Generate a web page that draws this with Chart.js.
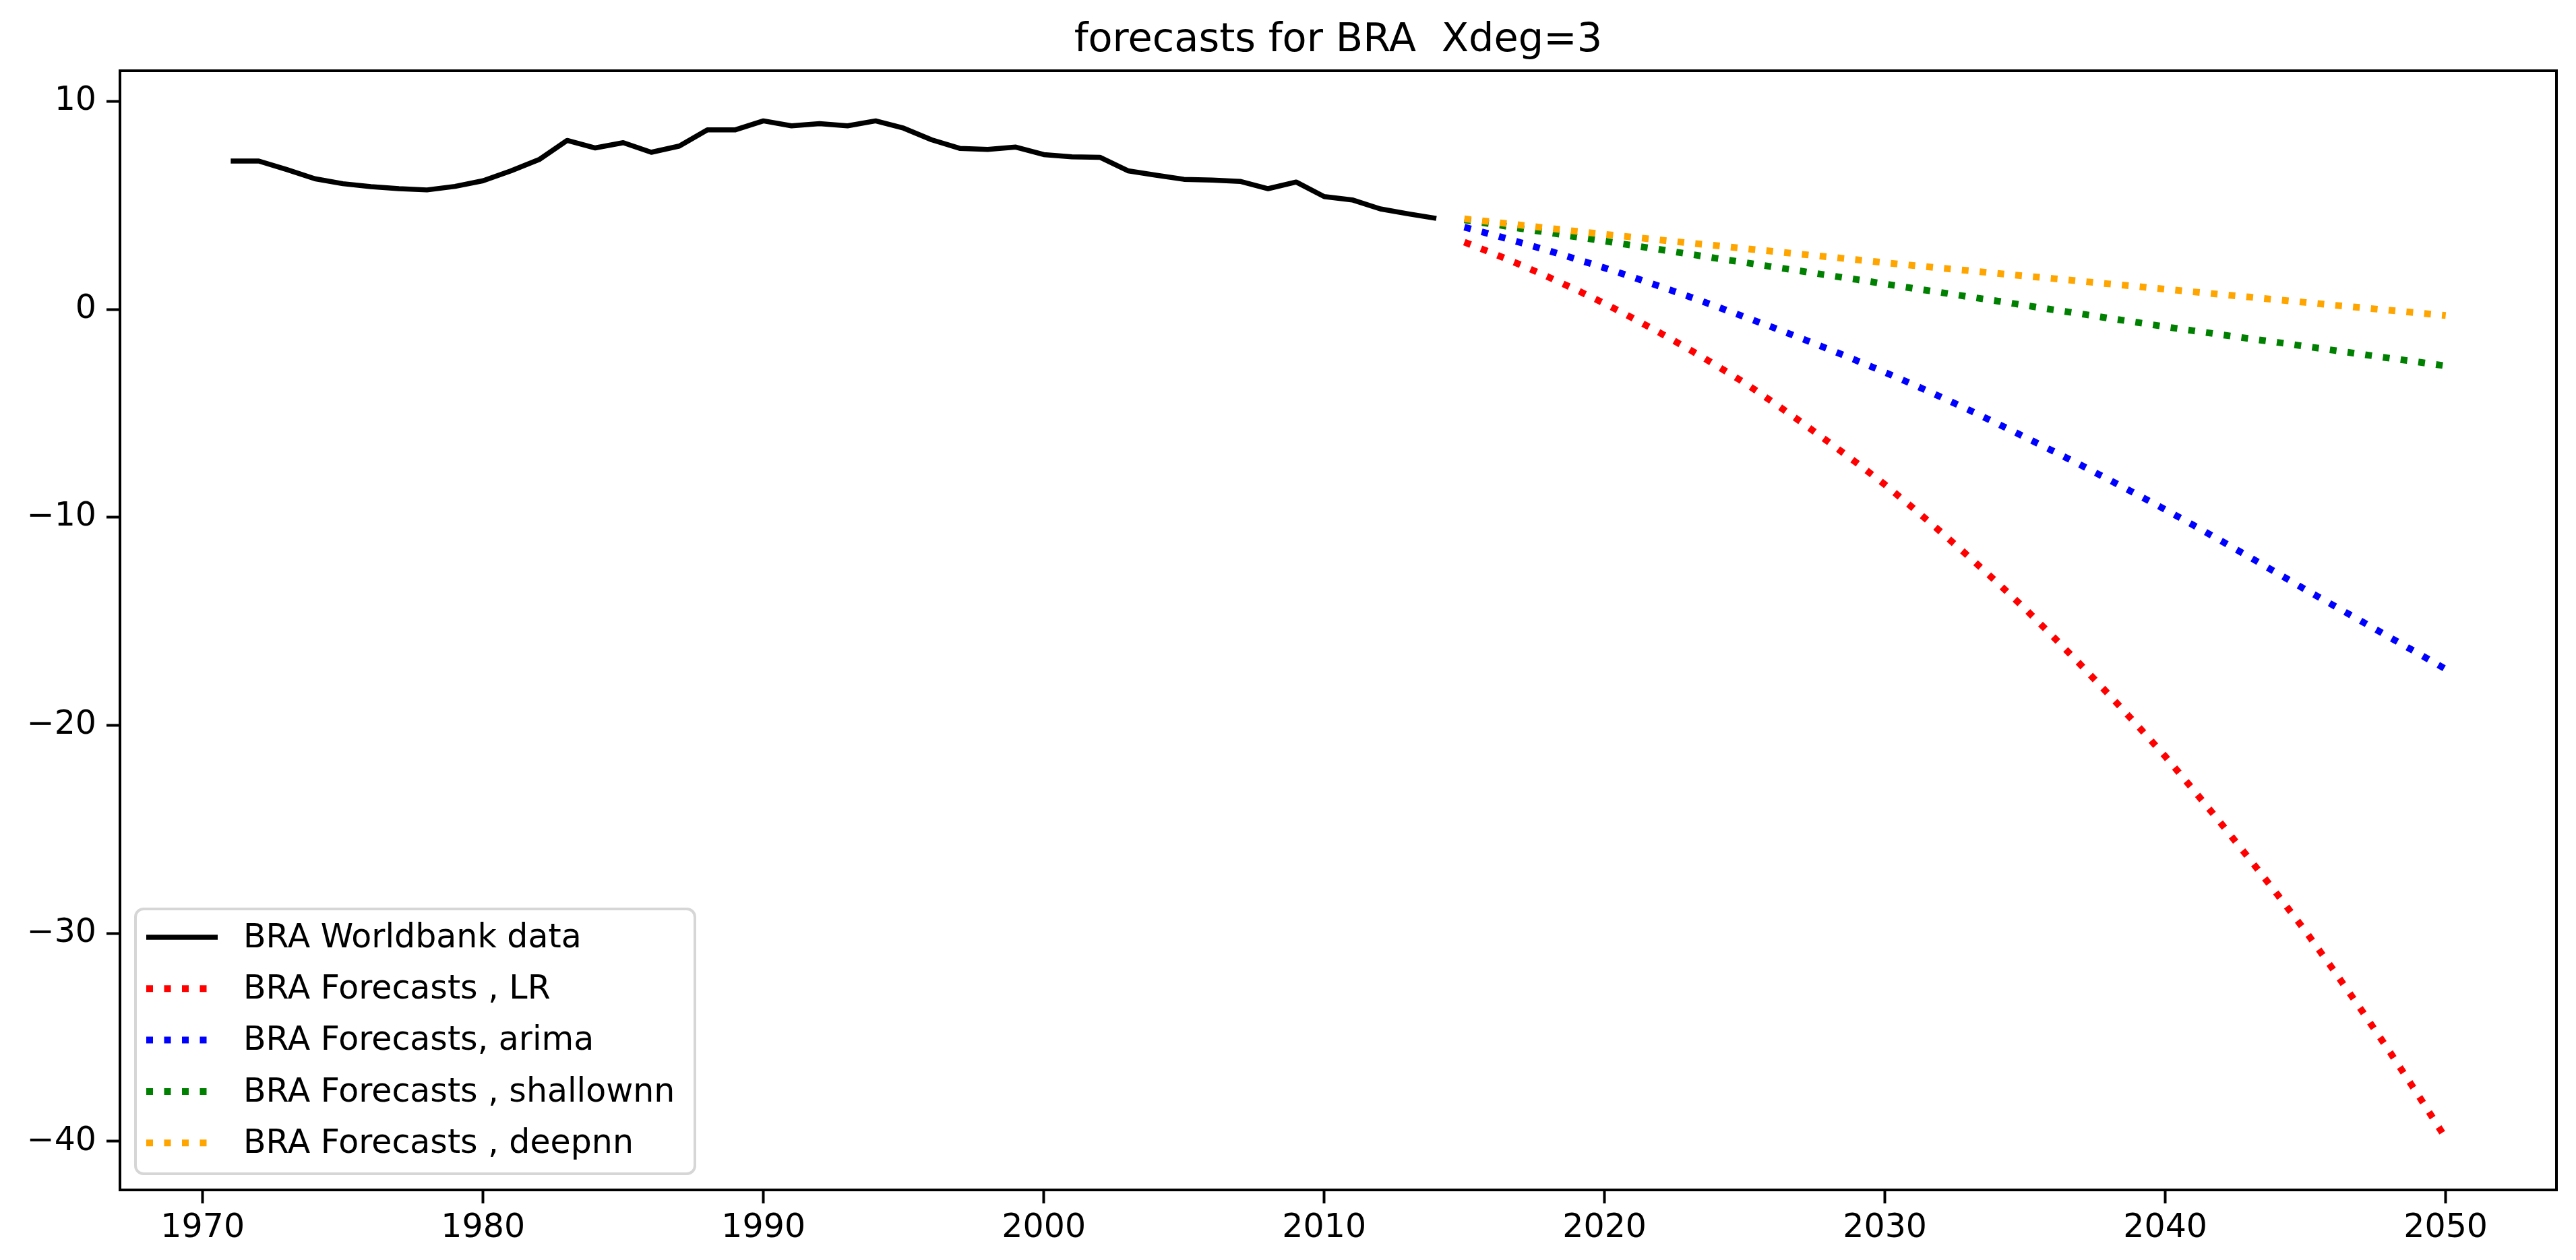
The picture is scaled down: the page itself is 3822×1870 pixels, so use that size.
<!DOCTYPE html>
<html>
<head>
<meta charset="utf-8">
<script src="https://cdn.jsdelivr.net/npm/chart.js@4.4.1/dist/chart.umd.min.js"></script>
<style>
html,body{margin:0;padding:0;background:#fff;}
#wrap{width:3822px;height:1870px;}
</style>
</head>
<body>
<div id="wrap"><canvas id="c" width="3822" height="1870"></canvas></div>
<script>
const titleText = 'forecasts for BRA  Xdeg=3';
const seriesLabels = ['BRA Worldbank data','BRA Forecasts , LR','BRA Forecasts, arima','BRA Forecasts , shallownn','BRA Forecasts , deepnn'];
const seriesColors = ['#000000','#ff0000','#0000ff','#008000','#ffa500'];

const histYears = [1971,1972,1973,1974,1975,1976,1977,1978,1979,1980,1981,1982,1983,1984,1985,1986,1987,1988,1989,1990,1991,1992,1993,1994,1995,1996,1997,1998,1999,2000,2001,2002,2003,2004,2005,2006,2007,2008,2009,2010,2011,2012,2013,2014];
const worldbank = [7.13,7.13,6.72,6.28,6.04,5.90,5.80,5.74,5.91,6.18,6.66,7.20,8.12,7.76,8.01,7.55,7.85,8.63,8.63,9.06,8.82,8.93,8.82,9.06,8.71,8.15,7.74,7.69,7.80,7.44,7.33,7.31,6.66,6.45,6.25,6.21,6.15,5.80,6.12,5.42,5.26,4.83,4.59,4.37];

const fcYears = [2015,2016,2017,2018,2019,2020,2021,2022,2023,2024,2025,2026,2027,2028,2029,2030,2031,2032,2033,2034,2035,2036,2037,2038,2039,2040,2041,2042,2043,2044,2045,2046,2047,2048,2049,2050];
const fcLR = [3.23,2.70,2.14,1.55,0.93,0.28,-0.42,-1.15,-1.91,-2.71,-3.54,-4.46,-5.41,-6.39,-7.39,-8.43,-9.55,-10.71,-11.90,-13.13,-14.40,-15.74,-17.12,-18.54,-20.00,-21.50,-23.10,-24.74,-26.42,-28.14,-29.90,-31.77,-33.70,-35.69,-37.74,-39.85];
const fcArima = [3.95,3.59,3.21,2.82,2.41,1.99,1.55,1.09,0.62,0.13,-0.37,-0.87,-1.39,-1.92,-2.47,-3.03,-3.61,-4.22,-4.84,-5.49,-6.15,-6.82,-7.50,-8.20,-8.91,-9.63,-10.38,-11.14,-11.91,-12.69,-13.48,-14.24,-15.00,-15.77,-16.53,-17.30];
const fcShallow = [4.30,4.10,3.89,3.69,3.48,3.28,3.07,2.87,2.66,2.45,2.25,2.04,1.84,1.63,1.43,1.22,1.01,0.81,0.60,0.40,0.19,-0.02,-0.22,-0.43,-0.63,-0.84,-1.03,-1.22,-1.41,-1.59,-1.78,-1.97,-2.16,-2.35,-2.53,-2.72];
const fcDeep = [4.35,4.20,4.05,3.90,3.75,3.61,3.47,3.33,3.19,3.06,2.92,2.79,2.65,2.52,2.38,2.24,2.11,1.98,1.86,1.73,1.60,1.48,1.35,1.22,1.10,0.97,0.84,0.71,0.59,0.46,0.33,0.20,0.08,-0.05,-0.17,-0.30];

const xTicks = [1970,1980,1990,2000,2010,2020,2030,2040,2050];
const yTicks = [-40,-30,-20,-10,0,10];
const xRange = [1967.05, 2053.95];
const yRange = [-42.34, 11.47];

const FONT = 'DejaVu Sans';
const toPts = (xs, ys) => xs.map((x, i) => ({x: x, y: ys[i]}));
const DOT_W = 10;

function ds(idx, xs, ys, dotted, order) {
  return {
    label: seriesLabels[idx],
    data: toPts(xs, ys),
    borderColor: seriesColors[idx],
    backgroundColor: seriesColors[idx],
    borderWidth: dotted ? DOT_W : 7.5,
    borderDash: dotted ? [DOT_W, 16.5] : [],
    borderCapStyle: 'butt',
    borderJoinStyle: 'round',
    pointRadius: 0,
    tension: 0,
    fill: false,
    order: order
  };
}

const framePlugin = {
  id: 'frame',
  afterDatasetsDraw(chart) {
    const a = chart.chartArea, ctx = chart.ctx;
    ctx.save();
    ctx.strokeStyle = '#000';
    ctx.lineWidth = 4;
    ctx.strokeRect(a.left, a.top, a.right - a.left, a.bottom - a.top);
    ctx.restore();
  }
};

const titlePlugin = {
  id: 'axTitle',
  afterDraw(chart) {
    const a = chart.chartArea, ctx = chart.ctx;
    ctx.save();
    ctx.font = '59px "' + FONT + '"';
    ctx.fillStyle = '#000';
    ctx.textAlign = 'center';
    ctx.textBaseline = 'alphabetic';
    ctx.fillText(titleText, (a.left + a.right) / 2, 76);
    ctx.restore();
  }
};

const legendPlugin = {
  id: 'mplLegend',
  afterDraw(chart) {
    const ctx = chart.ctx;
    const sets = chart.data.datasets;
    const box = {x: 201, y: 1349, w: 830, h: 393, r: 12};
    ctx.save();
    ctx.beginPath();
    ctx.roundRect(box.x, box.y, box.w, box.h, box.r);
    ctx.fillStyle = 'rgba(255,255,255,0.8)';
    ctx.fill();
    ctx.lineWidth = 4;
    ctx.strokeStyle = 'rgba(204,204,204,0.8)';
    ctx.stroke();
    const rowY0 = 1391, rowGap = 76.3;
    ctx.font = '49px "' + FONT + '"';
    ctx.textBaseline = 'middle';
    ctx.textAlign = 'left';
    sets.forEach((d, i) => {
      const y = rowY0 + i * rowGap;
      ctx.beginPath();
      ctx.lineWidth = d.borderWidth;
      ctx.strokeStyle = d.borderColor;
      ctx.lineCap = 'butt';
      ctx.setLineDash(d.borderDash || []);
      ctx.moveTo(217, y);
      ctx.lineTo(323, y);
      ctx.stroke();
      ctx.setLineDash([]);
      ctx.fillStyle = '#000';
      ctx.fillText(d.label, 361, y + 2);
    });
    ctx.restore();
  }
};

const tickFmt = v => (v < 0 ? '\u2212' + Math.abs(v) : String(v));

new Chart(document.getElementById('c'), {
  type: 'line',
  data: {
    datasets: [
      ds(0, histYears, worldbank, false, 5),
      ds(1, fcYears, fcLR, true, 4),
      ds(2, fcYears, fcArima, true, 3),
      ds(3, fcYears, fcShallow, true, 2),
      ds(4, fcYears, fcDeep, true, 1)
    ]
  },
  options: {
    responsive: false,
    devicePixelRatio: 1,
    animation: false,
    events: [],
    layout: {padding: {left: 0, right: 29, top: 105, bottom: 0}},
    plugins: {
      legend: {display: false},
      tooltip: {enabled: false},
      title: {display: false}
    },
    scales: {
      x: {
        type: 'linear',
        min: xRange[0],
        max: xRange[1],
        afterBuildTicks: s => { s.ticks = xTicks.map(v => ({value: v})); },
        afterFit: s => { s.height = 104; },
        grid: {display: true, drawOnChartArea: false, drawTicks: true, tickLength: 20, tickWidth: 4, tickColor: '#000'},
        border: {display: false},
        ticks: {color: '#000', font: {family: FONT, size: 49}, padding: 8, maxRotation: 0, autoSkip: false, callback: tickFmt}
      },
      y: {
        type: 'linear',
        min: yRange[0],
        max: yRange[1],
        afterBuildTicks: s => { s.ticks = yTicks.map(v => ({value: v})); },
        afterFit: s => { s.width = 178; },
        grid: {display: true, drawOnChartArea: false, drawTicks: true, tickLength: 20, tickWidth: 4, tickColor: '#000'},
        border: {display: false},
        ticks: {color: '#000', font: {family: FONT, size: 49}, padding: 15, autoSkip: false, callback: tickFmt}
      }
    }
  },
  plugins: [framePlugin, titlePlugin, legendPlugin]
});
</script>
</body>
</html>
